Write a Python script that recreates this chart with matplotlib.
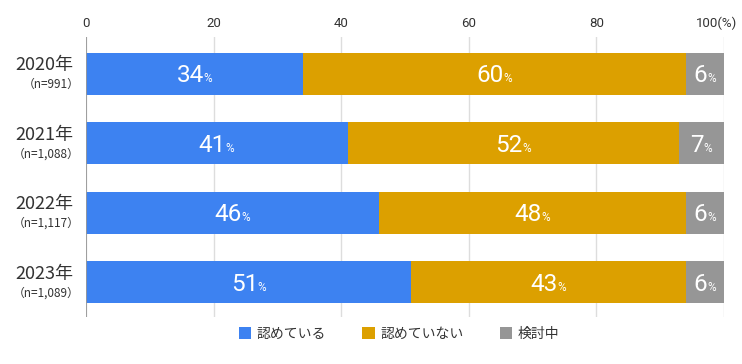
import matplotlib
matplotlib.use("Agg")
import matplotlib.pyplot as plt
import matplotlib.transforms as mtransforms
from matplotlib.patches import Patch

plt.rcParams['font.family'] = ['Noto Sans CJK JP', 'DejaVu Sans']

years = ["2020年", "2021年", "2022年", "2023年"]
ns = ["（n=991）", "（n=1,088）", "（n=1,117）", "（n=1,089）"]
series_names = ["認めている", "認めていない", "検討中"]
approve = [34, 41, 46, 51]
reject = [60, 52, 48, 43]
considering = [6, 7, 6, 6]
xticks = [0, 20, 40, 60, 80, 100]
xticklabels = ["0", "20", "40", "60", "80", "100(%)"]

colors = ["#3D82F1", "#DCA000", "#969696"]
series = [approve, reject, considering]
numfont = ['Roboto', 'DejaVu Sans']

fig = plt.figure(figsize=(7.42, 3.64), dpi=100)
ax = fig.add_axes([86/742, 1-317/364, (724-86)/742, (317-37)/364])

ypos = list(range(len(years)))
lefts = [0]*len(years)
for vals, col in zip(series, colors):
    ax.barh(ypos, vals, left=lefts, height=0.6, color=col, zorder=3)
    lefts = [l + v for l, v in zip(lefts, vals)]

ax.set_xlim(0, 100)
ax.set_ylim(3.5, -0.53)
ax.xaxis.tick_top()
ax.set_xticks(xticks)
ax.set_xticklabels(xticklabels, family=numfont)
ax.tick_params(axis='x', length=0, pad=5, labelsize=9.5, colors="#333333")
ax.set_yticks([])
for s in ax.spines.values():
    s.set_visible(False)
ax.grid(axis='x', color="#DDDDDD", linewidth=1.0, zorder=0)
ax.axvline(0, color="#999999", linewidth=1.3, zorder=4)
lab = ax.get_xticklabels()[-1]
lab.set_transform(lab.get_transform() + mtransforms.ScaledTranslation(-5/72, 0, fig.dpi_scale_trans))

# year labels
for i, (yr, n) in enumerate(zip(years, ns)):
    ax.annotate(yr, xy=(0, i), xycoords=('axes fraction', 'data'), xytext=(-9, 6),
                textcoords='offset points', ha='right', va='center', fontsize=13, color="#333333")
    ax.annotate(n, xy=(0, i), xycoords=('axes fraction', 'data'), xytext=(-4.5, -7.5),
                textcoords='offset points', ha='right', va='center', fontsize=8.5, color="#333333")

# value labels: measure widths first
renderer = fig.canvas.get_renderer()
def width_pts(s, size):
    t = fig.text(0, 0, s, fontsize=size, family=numfont)
    w = t.get_window_extent(renderer).width * 72 / fig.dpi
    t.remove()
    return w

pw = width_pts("%", 8.5)
for i in range(len(years)):
    left = 0
    for vals in series:
        v = vals[i]
        cx = left + v / 2
        num = str(v)
        nw = width_pts(num, 17.5)
        d = (nw - pw) / 2
        ax.annotate(num, xy=(cx, i), xytext=(d, -6.2), textcoords='offset points',
                    ha='right', va='baseline', fontsize=17.5, color='white', zorder=5, family=numfont)
        ax.annotate("%", xy=(cx, i), xytext=(d - 0.3, -6.2), textcoords='offset points',
                    ha='left', va='baseline', fontsize=8.5, color='white', zorder=5, family=numfont)
        left += v

handles = [Patch(facecolor=c, edgecolor='none') for c in colors]
fig.legend(handles, series_names, loc='center', bbox_to_anchor=(399/742, 1-334/364),
           ncol=3, frameon=False, fontsize=10, handlelength=0.9, handleheight=0.9,
           handletextpad=0.4, columnspacing=2.6, labelcolor="#333333")

fig.savefig("out.png", dpi=100)
